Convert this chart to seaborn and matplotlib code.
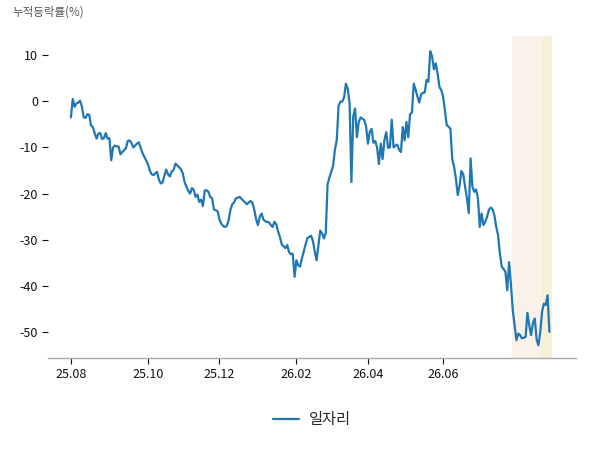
import numpy as np
import pandas as pd
import seaborn as sns
import matplotlib.pyplot as plt

series_name = "일자리"
y_title = "누적등락률(%)"

# cumulative change (%) per trading day, from Aug 2025
returns = [
    # 25.08 - 25.09
    -3.5, 0.5, -1.2, -0.5, -0.3, 0.1, -1.2, -3.5, -3.6, -2.8,
    -3.0, -5.3, -5.6, -7.0, -8.1, -7.0, -6.9, -8.2, -8.0, -6.9,
    -8.1, -8.0, -12.8, -10.0, -9.6, -9.8, -9.8, -11.5, -11.0, -10.6,
    -10.2, -8.6, -8.5, -9.0, -10.0, -9.6, -9.2, -8.9, -10.0, -11.2,
    -12.0, -12.8, -13.6,
    # 25.10 - 25.11
    -15.0, -15.8, -16.0, -15.6, -15.3, -17.0, -17.8, -17.6, -16.1, -14.8,
    -15.8, -16.3, -15.2, -14.9, -13.5, -13.9, -14.3, -14.7, -15.6, -17.5,
    -18.5, -19.4, -20.0, -18.8, -19.2, -20.7, -20.2, -21.8, -21.3, -22.7,
    -19.3, -19.3, -19.6, -20.7, -21.0, -23.4, -23.6, -23.8, -25.6, -26.5,
    -27.0, -27.2, -27.0, -25.8, -23.5, -22.3,
    # 25.12 - 26.01
    -21.9, -21.0, -20.9, -20.7, -21.1, -21.5, -21.9, -22.3, -21.9, -21.6,
    -22.0, -23.5, -25.5, -26.8, -25.0, -24.3, -25.6, -26.0, -26.1, -26.2,
    -26.8, -27.2, -26.1, -26.6, -28.2, -29.4, -31.0, -31.4, -31.8, -31.1,
    -32.7, -33.1, -33.0, -38.0, -34.4, -35.5, -35.8, -34.0, -32.5, -31.0,
    -29.6, -29.4, -29.1, -30.2, -32.5, -34.4, -31.2, -28.0, -28.6, -29.7,
    -28.5,
    # 26.02 - 26.03
    -18.0, -16.5, -15.3, -14.0, -10.5, -8.4, -1.0, -0.1, -0.1, 0.8,
    3.8, 2.7, -0.5, -17.5, -3.2, -1.6, -7.8, -4.5, -3.5, -3.8,
    -4.1, -5.4, -9.2, -6.6, -6.0, -9.0, -8.6, -10.0, -13.6, -9.2,
    -12.5, -8.4, -6.7, -10.1, -10.0, -4.0, -10.0, -9.6, -9.4,
    # 26.04 - 26.05
    -10.5, -11.0, -5.6, -8.5, -4.5, -7.8, -2.8, -2.5, 3.8, 2.5,
    1.0, -0.3, 1.5, 1.8, 1.9, 4.6, 4.2, 10.8, 9.7, 6.9,
    8.2, 6.0, 3.1, 2.4, 1.0, -2.0, -5.2, -5.5, -6.0, -12.5,
    -14.2, -16.8, -20.3, -18.3, -15.1, -15.8, -18.5, -21.0, -24.2, -12.4,
    -18.5, -19.6, -19.1, -21.0, -27.2, -24.3,
    # 26.06 onward
    -26.8, -26.1, -25.0, -23.5, -23.0, -23.4, -24.7, -27.2, -29.0, -33.0,
    -35.8, -36.3, -36.9, -40.9, -34.8, -39.5, -45.2, -48.5, -51.7, -50.3,
    -50.6, -51.3, -51.2, -51.0, -45.8, -48.5, -50.6, -48.0, -47.0, -51.5,
    -52.8, -50.0, -45.5, -43.8, -44.1, -42.0, -49.9,
]

# first trading day of every second month
tick_days = [0, 42, 81, 123, 162, 203]
tick_labels = ["25.08", "25.10", "25.12", "26.02", "26.04", "26.06"]
y_ticks = [-50, -40, -30, -20, -10, 0, 10]

# highlighted periods, in trading-day index
highlight_spans = [(240.6, 256.8), (256.8, 262.2)]
highlight_colors = ["#faf1e8", "#f5f0d6"]

df = pd.DataFrame({"day": np.arange(len(returns)), "value": returns})

sns.set_style("white")
plt.rcParams["font.family"] = ["Noto Sans CJK KR", "DejaVu Sans"]
plt.rcParams["axes.unicode_minus"] = False

fig = plt.figure(figsize=(6, 4.5), dpi=100)
ax = fig.add_axes([0.08, 0.204, 0.88, 0.716])

for (start, end), color in zip(highlight_spans, highlight_colors):
    ax.axvspan(start, end, color=color, lw=0, zorder=0)

sns.lineplot(data=df, x="day", y="value", ax=ax, color="#1f77b4",
             linewidth=1.6, label=series_name)

ax.set_xlim(-12.5, 275.5)
ax.set_ylim(-55.6, 14.1)
ax.set_xticks(tick_days, tick_labels)
ax.set_yticks(y_ticks)
ax.set_xlabel("")
ax.set_ylabel("")
ax.tick_params(axis="both", labelsize=9, colors="#111111", length=4,
               width=0.8, pad=3, direction="out")
ax.tick_params(axis="x", bottom=True)
ax.tick_params(axis="y", left=True)

for side in ["top", "right", "left"]:
    ax.spines[side].set_visible(False)
ax.spines["bottom"].set_color("#aaaaaa")
ax.spines["bottom"].set_linewidth(1)

fig.text(0.02, 0.973, y_title, fontsize=8.3, color="#555555",
         ha="left", va="center")

ax.legend(loc="center", bbox_to_anchor=(0.5, -0.19), frameon=False,
          fontsize=11, handlelength=1.7, handletextpad=0.6)

fig.savefig("out.png", dpi=100)
